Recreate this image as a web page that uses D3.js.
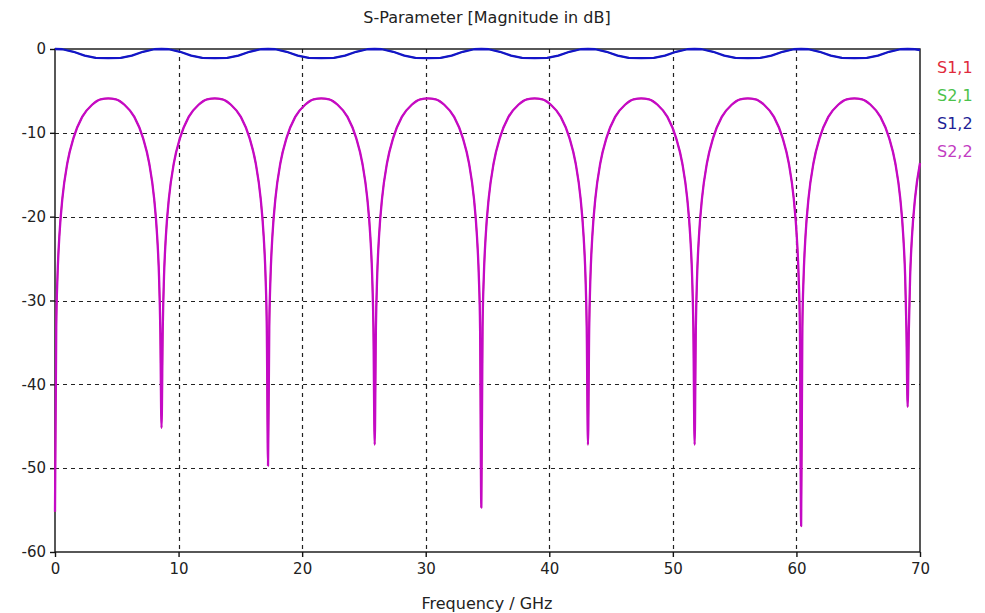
<!DOCTYPE html>
<html>
<head>
<meta charset="utf-8">
<script src="https://cdn.jsdelivr.net/npm/d3@7"></script>
<style>
  body { margin: 0; background: #fff; }
  svg { display: block; font-family: "DejaVu Sans", Tahoma, sans-serif; }
</style>
</head>
<body>
<svg id="chart" width="985" height="613"></svg>
<script>
// S-parameter magnitude (dB) vs frequency (GHz)

const xTicks = [0, 10, 20, 30, 40, 50, 60, 70];
const yTicks = [0, -10, -20, -30, -40, -50, -60];

const legendNames  = ["S1,1", "S2,1", "S1,2", "S2,2"];
const legendColors = ["#e02a3c", "#4cc24c", "#1e1e96", "#c23cc2"];

// S2,2 (reflection) – [GHz, dB]
const s22 = [
  [0, -55.2], [0.1, -33.3], [0.2, -27.2], [0.35, -22.4], [0.6, -17.8], [1.0, -13.6], [1.5, -10.6],
  [2.2, -8.1], [3.0, -6.65], [3.7, -6.0], [4.31, -5.9], [4.92, -6.0], [5.62, -6.65], [6.42, -8.1],
  [7.12, -10.6], [7.62, -13.6], [8.02, -17.8], [8.27, -22.4], [8.42, -27.2], [8.52, -33.3], [8.62, -45.2],
  [8.72, -33.3], [8.82, -27.2], [8.97, -22.4], [9.22, -17.8], [9.62, -13.6], [10.12, -10.6], [10.82, -8.1],
  [11.62, -6.65], [12.32, -6.0], [12.93, -5.9], [13.54, -6.0], [14.24, -6.65], [15.04, -8.1], [15.74, -10.6],
  [16.24, -13.6], [16.64, -17.8], [16.89, -22.4], [17.04, -27.2], [17.14, -33.3], [17.24, -49.7],
  [17.34, -33.3], [17.44, -27.2], [17.59, -22.4], [17.84, -17.8], [18.24, -13.6], [18.74, -10.6], [19.44, -8.1],
  [20.24, -6.65], [20.94, -6.0], [21.55, -5.9], [22.17, -6.0], [22.87, -6.65], [23.67, -8.1], [24.37, -10.6],
  [24.87, -13.6], [25.27, -17.8], [25.52, -22.4], [25.67, -27.2], [25.77, -33.3], [25.87, -47.2],
  [25.97, -33.3], [26.07, -27.2], [26.22, -22.4], [26.47, -17.8], [26.87, -13.6], [27.37, -10.6], [28.07, -8.1],
  [28.87, -6.65], [29.57, -6.0], [30.18, -5.9], [30.8, -6.0], [31.5, -6.65], [32.3, -8.1], [33.0, -10.6],
  [33.5, -13.6], [33.9, -17.8], [34.15, -22.4], [34.3, -27.2], [34.4, -33.3], [34.5, -54.7],
  [34.6, -33.3], [34.7, -27.2], [34.85, -22.4], [35.1, -17.8], [35.5, -13.6], [36.0, -10.6], [36.7, -8.1],
  [37.5, -6.65], [38.2, -6.0], [38.81, -5.9], [39.43, -6.0], [40.13, -6.65], [40.93, -8.1], [41.63, -10.6],
  [42.13, -13.6], [42.53, -17.8], [42.78, -22.4], [42.93, -27.2], [43.03, -33.3], [43.13, -47.2],
  [43.23, -33.3], [43.33, -27.2], [43.48, -22.4], [43.73, -17.8], [44.13, -13.6], [44.63, -10.6], [45.33, -8.1],
  [46.13, -6.65], [46.83, -6.0], [47.44, -5.9], [48.06, -6.0], [48.76, -6.65], [49.56, -8.1], [50.26, -10.6],
  [50.76, -13.6], [51.16, -17.8], [51.41, -22.4], [51.56, -27.2], [51.66, -33.3], [51.76, -47.2],
  [51.86, -33.3], [51.96, -27.2], [52.11, -22.4], [52.36, -17.8], [52.76, -13.6], [53.26, -10.6], [53.96, -8.1],
  [54.76, -6.65], [55.46, -6.0], [56.07, -5.9], [56.68, -6.0], [57.38, -6.65], [58.18, -8.1], [58.88, -10.6],
  [59.38, -13.6], [59.78, -17.8], [60.03, -22.4], [60.18, -27.2], [60.28, -33.3], [60.38, -56.9],
  [60.48, -33.3], [60.58, -27.2], [60.73, -22.4], [60.98, -17.8], [61.38, -13.6], [61.88, -10.6], [62.58, -8.1],
  [63.38, -6.65], [64.08, -6.0], [64.69, -5.9], [65.3, -6.0], [66.0, -6.65], [66.8, -8.1], [67.5, -10.6],
  [68.0, -13.6], [68.4, -17.8], [68.65, -22.4], [68.8, -27.2], [68.9, -33.3], [69.0, -42.7],
  [69.1, -33.3], [69.2, -27.2], [69.35, -22.4], [69.6, -17.8], [70.0, -13.6]
];

// S1,2 (transmission) – [GHz, dB]
const s12 = [
  [0, 0], [0.6, -0.03], [1.5, -0.33], [2.4, -0.78], [3.3, -1.07], [4.31, -1.1], [5.32, -1.07], [6.22, -0.78], [7.12, -0.33], [8.02, -0.03],
  [8.62, 0], [9.22, -0.03], [10.12, -0.33], [11.02, -0.78], [11.92, -1.07], [12.93, -1.1], [13.94, -1.07], [14.84, -0.78], [15.74, -0.33], [16.64, -0.03],
  [17.24, 0], [17.84, -0.03], [18.74, -0.33], [19.64, -0.78], [20.54, -1.07], [21.55, -1.1], [22.57, -1.07], [23.47, -0.78], [24.37, -0.33], [25.27, -0.03],
  [25.87, 0], [26.47, -0.03], [27.37, -0.33], [28.27, -0.78], [29.17, -1.07], [30.18, -1.1], [31.2, -1.07], [32.1, -0.78], [33.0, -0.33], [33.9, -0.03],
  [34.5, 0], [35.1, -0.03], [36.0, -0.33], [36.9, -0.78], [37.8, -1.07], [38.81, -1.1], [39.83, -1.07], [40.73, -0.78], [41.63, -0.33], [42.53, -0.03],
  [43.13, 0], [43.73, -0.03], [44.63, -0.33], [45.53, -0.78], [46.43, -1.07], [47.44, -1.1], [48.46, -1.07], [49.36, -0.78], [50.26, -0.33], [51.16, -0.03],
  [51.76, 0], [52.36, -0.03], [53.26, -0.33], [54.16, -0.78], [55.06, -1.07], [56.07, -1.1], [57.08, -1.07], [57.98, -0.78], [58.88, -0.33], [59.78, -0.03],
  [60.38, 0], [60.98, -0.03], [61.88, -0.33], [62.78, -0.78], [63.68, -1.07], [64.69, -1.1], [65.7, -1.07], [66.6, -0.78], [67.5, -0.33], [68.4, -0.03],
  [69.0, 0], [69.6, -0.03], [70.0, -0.12]
];

// symmetric two-port: S1,1 lies under S2,2, S2,1 lies under S1,2
const s11 = s22;
const s21 = s12;

const svg = d3.select("#chart");
const margin = { left: 55, right: 65, top: 49, bottom: 61 };
const W = 985, H = 613;

const x = d3.scaleLinear().domain([0, 70]).range([margin.left, W - margin.right]);
const y = d3.scaleLinear().domain([-60, 0]).range([H - margin.bottom, margin.top]);

// grid (dashed)
const grid = svg.append("g").attr("stroke", "#222").attr("stroke-width", 1.2)
  .attr("stroke-dasharray", "4,4");
grid.selectAll("line.gx")
  .data(xTicks.filter(d => d > 0 && d < 70))
  .join("line")
    .attr("class", "gx")
    .attr("x1", d => Math.round(x(d)) + 0.5).attr("x2", d => Math.round(x(d)) + 0.5)
    .attr("y1", y(0)).attr("y2", y(-60));
grid.selectAll("line.gy")
  .data(yTicks.filter(d => d < 0 && d > -60))
  .join("line")
    .attr("class", "gy")
    .attr("x1", x(0)).attr("x2", x(70))
    .attr("y1", d => Math.round(y(d)) + 0.5).attr("y2", d => Math.round(y(d)) + 0.5);

// frame
svg.append("rect")
  .attr("x", x(0)).attr("y", y(0))
  .attr("width", x(70) - x(0)).attr("height", y(-60) - y(0))
  .attr("fill", "none").attr("stroke", "#111").attr("stroke-width", 1.4);

// axes
const xAxis = svg.append("g")
  .attr("transform", `translate(0,${y(-60)})`)
  .call(d3.axisBottom(x).tickValues(xTicks).tickSize(5).tickPadding(6));
const yAxis = svg.append("g")
  .attr("transform", `translate(${x(0)},0)`)
  .call(d3.axisLeft(y).tickValues(yTicks).tickSize(5).tickPadding(4)
    .tickFormat(d => d === 0 ? "0" : "-" + Math.abs(d)));
[xAxis, yAxis].forEach(g => {
  g.select(".domain").remove();
  g.selectAll("line").attr("stroke", "#111").attr("stroke-width", 1.4);
  g.selectAll("text").attr("fill", "#222").style("font-size", "15px")
    .style("font-family", "\"DejaVu Sans\", Tahoma, sans-serif");
});

// curves
const smooth = d3.line()
  .x(d => x(d[0]))
  .y(d => y(d[1]))
  .curve(d3.curveMonotoneX);
const straight = d3.line()
  .x(d => x(d[0]))
  .y(d => y(d[1]));

const series = [
  { data: s11, color: "#e02a3c", width: 1.4, gen: smooth },
  { data: s21, color: "#4cc24c", width: 1.4, gen: straight },
  { data: s12, color: "#1414c8", width: 2.3, gen: straight },
  { data: s22, color: "#c40ac4", width: 2.3, gen: smooth }
];
svg.append("g").selectAll("path")
  .data(series)
  .join("path")
    .attr("d", d => d.gen(d.data))
    .attr("fill", "none")
    .attr("stroke", d => d.color)
    .attr("stroke-width", d => d.width)
    .attr("stroke-linejoin", "round");

// legend
svg.append("g").selectAll("text")
  .data(legendNames)
  .join("text")
    .attr("x", 937)
    .attr("y", (d, i) => 73 + i * 28)
    .attr("fill", (d, i) => legendColors[i])
    .style("font-size", "16px")
    .text(d => d);

// title + axis label
svg.append("text")
  .attr("x", 487).attr("y", 23)
  .attr("text-anchor", "middle")
  .attr("fill", "#222")
  .style("font-size", "16px")
  .text("S-Parameter [Magnitude in dB]");

svg.append("text")
  .attr("x", 487).attr("y", 609)
  .attr("text-anchor", "middle")
  .attr("fill", "#222")
  .style("font-size", "16px")
  .text("Frequency / GHz");
</script>
</body>
</html>
